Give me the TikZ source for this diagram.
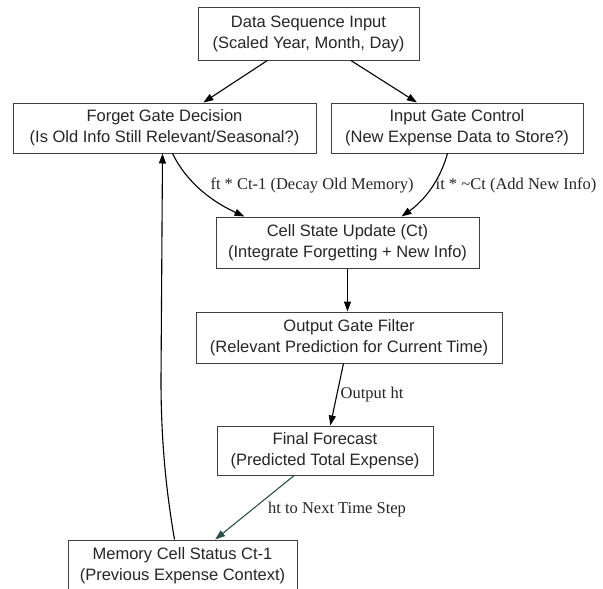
\documentclass[tikz,border=0pt]{standalone}
\usepackage{fontspec}
\setmainfont{Liberation Serif}
\setsansfont{Liberation Sans}
\usetikzlibrary{arrows.meta,calc}
\definecolor{slate}{HTML}{2F4F4F}
\begin{document}
\begin{tikzpicture}[x=1pt,y=-1pt,
 box/.style={draw=black!75, line width=1pt, rectangle, align=center, inner sep=0pt,
   font=\sffamily\fontsize{16.5}{21}\selectfont, text=black!85},
 arr/.style={line width=1.1pt, -{Triangle[length=10pt,width=7pt]}},
 elab/.style={font=\rmfamily\fontsize{16.5}{20}\selectfont, text=black!85, inner sep=0pt}]
\useasboundingbox[fill=white] (0,0) rectangle (603,589);

\node[box, minimum width=221pt, minimum height=53pt] (data) at (308.5,33.5) {Data Sequence Input\\(Scaled Year, Month, Day)};
\node[box, minimum width=303pt, minimum height=50pt] (forget) at (164.5,128) {Forget Gate Decision\\(Is Old Info Still Relevant/Seasonal?)};
\node[box, minimum width=252pt, minimum height=50pt] (input) at (457,128) {Input Gate Control\\(New Expense Data to Store?)};
\node[box, minimum width=263pt, minimum height=51pt] (cell) at (347.5,242.5) {Cell State Update (Ct)\\(Integrate Forgetting + New Info)};
\node[box, minimum width=306pt, minimum height=51pt] (output) at (349,337.5) {Output Gate Filter\\(Relevant Prediction for Current Time)};
\node[box, minimum width=216pt, minimum height=49pt] (final) at (325,450.5) {Final Forecast\\(Predicted Total Expense)};
\node[box, minimum width=229pt, minimum height=52pt] (memory) at (182.5,566) {Memory Cell Status Ct-1\\(Previous Expense Context)};

\draw[arr] (data) -- (forget);
\draw[arr] (data) -- (input);
\draw[arr] ($(forget.south west)+(160,0)$) .. controls (188,185) and (215,203) .. ($(cell.north west)+(29,0)$);
\draw[arr] ($(input.south west)+(117,0)$) .. controls (440,180) and (425,200) .. ($(cell.north west)+(186,0)$);
\draw[arr] (cell.south) -- (cell.south |- output.north);
\draw[arr] (output) -- (final);
\draw[arr, draw=slate] (final) -- (memory);
\draw[arr] ($(memory.north west)+(107,0)$) .. controls (166,490) and (161,440) .. (161,380) -- ($(forget.south west)+(150,0)$);

\node[elab] (l1) at (312,185) {ft * Ct-1 (Decay Old Memory)};
\node[elab] (l2) at (516,185) {it * \textasciitilde Ct (Add New Info)};
\node[elab] (l3) at (372,395) {Output ht};
\node[elab] (l4) at (337,510) {ht to Next Time Step};
\end{tikzpicture}
\end{document}
